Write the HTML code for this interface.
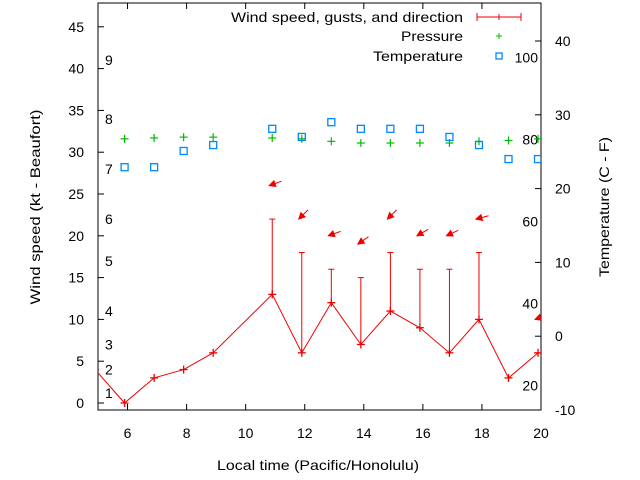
<!DOCTYPE html>
<html><head><meta charset="utf-8"><style>
body{margin:0;background:#fff}
svg{display:block;font-family:"Liberation Sans",sans-serif}
</style></head><body>
<svg id="chart" width="640" height="480" viewBox="0 0 640 480" xmlns="http://www.w3.org/2000/svg">
<g id="axes"></g>
<g id="marks"></g>
<g id="legend">
<text x="463" y="22" font-size="14" text-anchor="end" textLength="232" lengthAdjust="spacingAndGlyphs">Wind speed, gusts, and direction</text>
<g stroke="#e00" stroke-width="1"><line x1="477" y1="17" x2="521" y2="17"/><line x1="477" y1="13" x2="477" y2="21"/><line x1="521" y1="13" x2="521" y2="21"/><line x1="499" y1="14" x2="499" y2="20"/></g>
<text x="463" y="41" font-size="14" text-anchor="end" textLength="62" lengthAdjust="spacingAndGlyphs">Pressure</text>
<g stroke="#0b0" stroke-width="1"><line x1="496" y1="36" x2="502" y2="36"/><line x1="499" y1="33" x2="499" y2="39"/></g>
<text x="463" y="61" font-size="14" text-anchor="end" textLength="90" lengthAdjust="spacingAndGlyphs">Temperature</text>
<rect x="496" y="53" width="6" height="6" fill="none" stroke="#08f" stroke-width="1.3"/>
</g>
</svg>
<script>
const hours=[4.9,5.9,6.9,7.9,8.9,10.9,11.9,12.9,13.9,14.9,15.9,16.9,17.9,18.9,19.9];
const windKt=[4,0,3,4,6,13,6,12,7,11,9,6,10,3,6];
const gustKt=[null,null,null,null,null,22,18,16,15,18,16,16,18,null,null];
const windDirDeg=[null,null,null,null,null,70,45,70,55,45,60,65,75,null,70];
const pressurePlot=[null,31.6,31.7,31.8,31.8,31.7,31.6,31.3,31.1,31.1,31.1,31.1,31.3,31.4,31.6];
const tempC=[null,22.9,22.9,25.1,25.9,28.1,27.0,29.0,28.1,28.1,28.1,27.0,25.9,24.0,24.0];
const xTicks=[6,8,10,12,14,16,18,20];
const yTicks=[0,5,10,15,20,25,30,35,40,45];
const y2Ticks=[-10,0,10,20,30,40];
const fTicks=[20,40,60,80,100];
const beaufort=[1,2,3,4,5,6,7,8,9];
const beaufortPos=[1.2,4,7,11,17,22,28,34,41];

const L=98,R=541,T=3,B=410;
const X=h=>L+(h-5)/15*(R-L);
const Y=k=>403-k*8.36;
const Y2=c=>410-(c+10)*7.38;
const NS="http://www.w3.org/2000/svg";
function mk(p,tag,at){const e=document.createElementNS(NS,tag);for(const k in at)e.setAttribute(k,at[k]);p.appendChild(e);return e;}
const ax=document.getElementById('axes'),mg=document.getElementById('marks');
const cp=mk(mg,'clipPath',{id:'cp'});mk(cp,'rect',{x:L,y:T,width:R-L,height:B-T});
mg.setAttribute('clip-path','url(#cp)');
let f=mk(ax,'rect',{x:L,y:T,width:R-L,height:B-T,fill:'none',stroke:'#000','stroke-width':1});


xTicks.forEach(h=>{const x=X(h);
 mk(ax,'line',{x1:x,y1:B,x2:x,y2:B-6,stroke:'#000'});mk(ax,'line',{x1:x,y1:T,x2:x,y2:T+6,stroke:'#000'});
 const t=mk(ax,'text',{x:x,y:438,'font-size':14,'text-anchor':'middle'});t.textContent=h;
 
 });
yTicks.forEach(k=>{const y=Y(k);
 mk(ax,'line',{x1:L,y1:y,x2:L+6,y2:y,stroke:'#000'});
 const t=mk(ax,'text',{x:84,y:y+5,'font-size':14,'text-anchor':'end'});t.textContent=k;
 
 });
y2Ticks.forEach(c=>{const y=Y2(c);
 mk(ax,'line',{x1:R,y1:y,x2:R-6,y2:y,stroke:'#000'});
 const t=mk(ax,'text',{x:555,y:y+5,'font-size':14,'text-anchor':'start'});t.textContent=c;
 
 });
fTicks.forEach(F=>{const c=(F-32)*5/9;
 const t=mk(ax,'text',{x:538,y:Y2(c)+5,'font-size':14,'text-anchor':'end'});t.textContent=F;
 
 });
beaufort.forEach((b,i)=>{
 const t=mk(ax,'text',{x:105,y:Y(beaufortPos[i])+5,'font-size':14});t.textContent=b;
 
 });
let t=mk(ax,'text',{x:318,y:470,'font-size':14,'text-anchor':'middle',textLength:202,lengthAdjust:'spacingAndGlyphs'});t.textContent='Local time (Pacific/Honolulu)';


t=mk(ax,'text',{x:0,y:0,'font-size':14,'text-anchor':'middle',textLength:195,lengthAdjust:'spacingAndGlyphs',transform:'translate(40,207) rotate(-90)'});t.textContent='Wind speed (kt - Beaufort)';


t=mk(ax,'text',{x:0,y:0,'font-size':14,'text-anchor':'middle',textLength:140,lengthAdjust:'spacingAndGlyphs',transform:'translate(609,207) rotate(-90)'});t.textContent='Temperature (C - F)';



const pl=mk(mg,'polyline',{points:hours.map((h,i)=>X(h)+','+Y(windKt[i])).join(' '),fill:'none',stroke:'#e00','stroke-width':1});


hours.forEach((h,i)=>{const x=X(h),y=Y(windKt[i]);
 const g=mk(mg,'g',{stroke:'#e00','stroke-width':1.3});
 
 
 mk(g,'line',{x1:x-4,y1:y,x2:x+4,y2:y});mk(g,'line',{x1:x,y1:y-4,x2:x,y2:y+4});
 if(gustKt[i]!=null){const yg=Y(gustKt[i]);
  const gg=mk(mg,'g',{stroke:'#e00','stroke-width':1});
  
  
  mk(gg,'line',{x1:x,y1:y,x2:x,y2:yg});mk(gg,'line',{x1:x-3,y1:yg,x2:x+3,y2:yg});}
 if(windDirDeg[i]!=null){const top=(gustKt[i]!=null?gustKt[i]:windKt[i])+4;
  const ay=Y(top),axx=x-3;const a=windDirDeg[i]*Math.PI/180;
  const dx=Math.sin(a),dy=-Math.cos(a);const len=13;
  const tx=axx+dx*len,ty=ay+dy*len;
  const ag=mk(mg,'g',{stroke:'#e00',fill:'#e00','stroke-width':1});
  
  
  mk(ag,'line',{x1:axx,y1:ay,x2:tx,y2:ty});
  const px=-dy,py=dx;const hl=6,hw=3;
  mk(ag,'polygon',{points:`${axx},${ay} ${axx+dx*hl+px*hw},${ay+dy*hl+py*hw} ${axx+dx*hl-px*hw},${ay+dy*hl-py*hw}`});}
});
hours.forEach((h,i)=>{if(pressurePlot[i]==null)return;const x=X(h),y=Y(pressurePlot[i]);
 const g=mk(mg,'g',{stroke:'#0b0','stroke-width':1.2});
 
 
 mk(g,'line',{x1:x-4,y1:y,x2:x+4,y2:y});mk(g,'line',{x1:x,y1:y-4,x2:x,y2:y+4});});
hours.forEach((h,i)=>{if(tempC[i]==null)return;const x=X(h),y=Y2(tempC[i]);
 const r=mk(mg,'rect',{x:x-3.5,y:y-3.5,width:7,height:7,fill:'none',stroke:'#08f','stroke-width':1.3});
 
 });
</script>
</body></html>
